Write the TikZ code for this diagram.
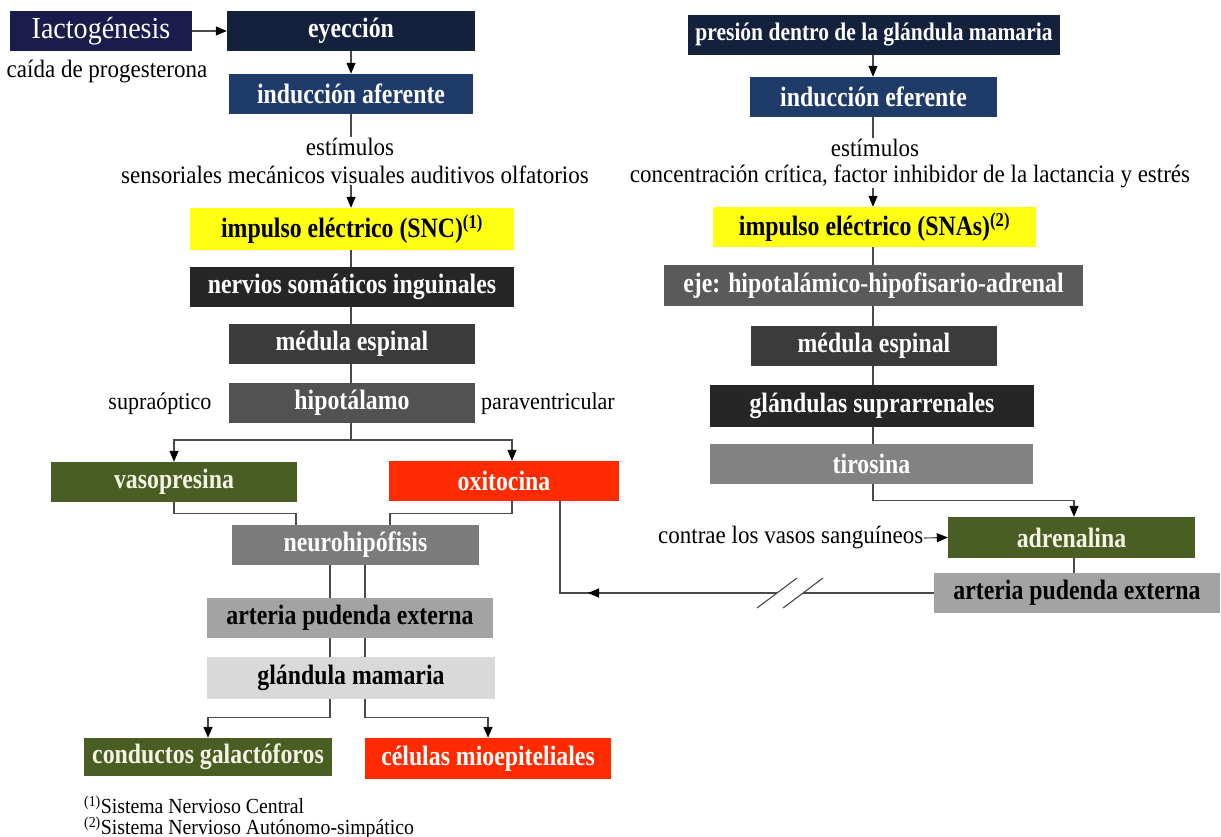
\documentclass[tikz,border=0pt]{standalone}
\usepackage{fontspec}
\setmainfont{Liberation Serif}[FakeStretch=0.92]
\newfontfamily\lblfont{Liberation Serif}[FakeStretch=0.85]
\usetikzlibrary{arrows.meta,decorations.markings}
\definecolor{navyA}{HTML}{1C1B4E}
\definecolor{navyB}{HTML}{13213D}
\definecolor{blueB}{HTML}{1F3B69}
\definecolor{yel}{HTML}{FFFF14}
\definecolor{gA}{HTML}{262626}
\definecolor{gB}{HTML}{3B3B3B}
\definecolor{gC}{HTML}{525252}
\definecolor{gD}{HTML}{5A5A5A}
\definecolor{gE}{HTML}{7B7B7B}
\definecolor{gF}{HTML}{828282}
\definecolor{gG}{HTML}{A3A3A3}
\definecolor{gH}{HTML}{D9D9D9}
\definecolor{olive}{HTML}{4A5E23}
\definecolor{redB}{HTML}{FF2A00}
\definecolor{lineC}{HTML}{4A4A4A}
\definecolor{cream}{HTML}{F4F4E4}
\begin{document}
\begin{tikzpicture}[x=1pt,y=-1pt,
  box/.style={rectangle, inner sep=0pt, text=white, font=\lblfont\fontsize{28}{30}\selectfont\bfseries},
  txt/.style={inner sep=0.5pt, text=black, font=\fontsize{25}{28}\selectfont},
  foot/.style={inner sep=0pt, text=black, font=\fontsize{21.5}{24}\selectfont},
  conn/.style={draw=lineC, line width=1.1pt},
  arr/.style={conn, -{Triangle[length=11pt,width=9pt,color=black]}},
  midarr/.style={postaction={decorate}, decoration={markings, mark=at position 189pt with {\arrow{Triangle[length=11pt,width=9pt,color=black]}}}}
]
\useasboundingbox (0,0) rectangle (1221,837);

% ---- left column ----
\node[box, fill=navyA, font=\fontsize{30.5}{32}\selectfont, minimum width=182pt, minimum height=40pt] (lact) at (101,31) {Iactogénesis};
\node[box, fill=navyB, minimum width=248pt, minimum height=40pt] (eye) at (351,31) {eyección};
\node[txt] (caida) at (107,72) {caída de progesterona};
\node[box, fill=blueB, minimum width=244pt, minimum height=40pt] (indA) at (351,94) {inducción aferente};
\node[txt] (stimL1) at (350,147) {estímulos};
\node[txt] (stimL2) at (355,175) {sensoriales mecánicos visuales auditivos olfatorios};
\node[box, fill=yel, text=black, minimum width=324pt, minimum height=42pt] (yelL) at (352,229) {impulso eléctrico (SNC)\textsuperscript{(1)}};
\node[box, fill=gA, minimum width=324pt, minimum height=40pt] (nerv) at (352,287) {nervios somáticos inguinales};
\node[box, fill=gB, minimum width=246pt, minimum height=40pt] (medL) at (352,344) {médula espinal};
\node[box, fill=gC, minimum width=246pt, minimum height=40pt] (hipo) at (352,403) {hipotálamo};
\node[txt, font=\fontsize{24}{27}\selectfont] (supra) at (160,404) {supraóptico};
\node[txt, font=\fontsize{24}{27}\selectfont] (para) at (548,404) {paraventricular};
\node[box, fill=olive, text=cream, minimum width=246pt, minimum height=40pt] (vaso) at (174,482) {vasopresina};
\node[box, fill=redB, minimum width=230pt, minimum height=40pt] (oxi) at (504,481) {oxitocina};
\node[box, fill=gE, minimum width=247pt, minimum height=40pt] (neuro) at (355.5,545) {neurohipófisis};
\node[box, fill=gG, text=black, minimum width=286pt, minimum height=40pt] (artL) at (350,618) {arteria pudenda externa};
\node[box, fill=gH, text=black, minimum width=288pt, minimum height=42pt] (glan) at (351,678) {glándula mamaria};
\node[box, fill=olive, text=cream, minimum width=248pt, minimum height=38pt] (cond) at (208,757) {conductos galactóforos};
\node[box, fill=redB, minimum width=246pt, minimum height=41pt] (cel) at (488,758.5) {células mioepiteliales};
\node[foot, anchor=west] (f1) at (84,805) {\textsuperscript{(1)}Sistema Nervioso Central};
\node[foot, anchor=west] (f2) at (84,828) {\textsuperscript{(2)}Sistema Nervioso Autónomo-simpático};

% ---- right column ----
\node[box, fill=navyB, font=\lblfont\fontsize{25.3}{27}\selectfont\bfseries, minimum width=372pt, minimum height=40pt] (pres) at (874,35) {presión dentro de la glándula mamaria};
\node[box, fill=blueB, minimum width=247pt, minimum height=40pt] (indE) at (873.5,97) {inducción eferente};
\node[txt] (stimR1) at (875,148) {estímulos};
\node[txt] (stimR2) at (910,176) {concentración crítica, factor inhibidor de la lactancia y estrés};
\node[box, fill=yel, text=black, minimum width=323pt, minimum height=40pt] (yelR) at (874.5,227) {impulso eléctrico (SNAs)\textsuperscript{(2)}};
\node[box, fill=gD, minimum width=419pt, minimum height=41pt] (eje) at (873.5,285.5) {eje: hipotalámico-hipofisario-adrenal};
\node[box, fill=gB, minimum width=246pt, minimum height=40pt] (medR) at (874,346) {médula espinal};
\node[box, fill=gA, minimum width=324pt, minimum height=42pt] (supr) at (872,406) {glándulas suprarrenales};
\node[box, fill=gF, minimum width=323pt, minimum height=40pt] (tiro) at (871.5,464) {tirosina};
\node[box, fill=olive, text=cream, minimum width=247pt, minimum height=41pt] (adr) at (1071.5,537.5) {adrenalina};
\node[box, fill=gG, text=black, minimum width=286pt, minimum height=40pt] (artR) at (1077,593) {arteria pudenda externa};
\node[txt, anchor=east] (contr) at (924,538) {contrae los vasos sanguíneos};

% ---- helper coordinates ----
\coordinate (cL) at (351,0);
\coordinate (cR) at (873,0);
\coordinate (cA) at (330,0);
\coordinate (cB) at (365,0);
\coordinate (cO) at (560,0);
\coordinate (jH) at (351,440);
\coordinate (br1) at (777,593);
\coordinate (br2) at (803,593);

% ---- left connectors ----
\draw[arr] (lact.east) -- (eye.west);
\draw[arr] (eye.south -| cL) -- (indA.north -| cL);
\draw[conn] (indA.south -| cL) -- (stimL1.north -| cL);
\draw[arr] (stimL2.south -| cL) -- (yelL.north -| cL);
\draw[conn] (yelL.south -| cL) -- (nerv.north -| cL);
\draw[conn] (nerv.south -| cL) -- (medL.north -| cL);
\draw[conn] (medL.south -| cL) -- (hipo.north -| cL);
\draw[conn] (hipo.south -| cL) -- (jH);
\draw[arr] (jH) -| (vaso.north);
\draw[arr] (jH) -| ([xshift=8pt]oxi.north);
\draw[conn] (vaso.south) -- ++(0,11) -| ([xshift=-59.5pt]neuro.north);
\draw[conn] ([xshift=8pt]oxi.south) -- ++(0,12) -| ([xshift=34.5pt]neuro.north);
\draw[conn] (neuro.south -| cA) -- (artL.north -| cA);
\draw[conn] (neuro.south -| cB) -- (artL.north -| cB);
\draw[conn] (artL.south -| cA) -- (glan.north -| cA);
\draw[conn] (artL.south -| cB) -- (glan.north -| cB);
\draw[arr] (glan.south -| cA) -- ++(0,18) -| (cond.north);
\draw[arr] (glan.south -| cB) -- ++(0,18) -| (cel.north);

% ---- oxitocina <- arteria (right) ----
\draw[conn] (artR.west) -- (br2);
\draw[conn, midarr] (br1) -- (br1 -| cO) -- (oxi.south -| cO);
\draw[conn] (757,608) -- (797,578);
\draw[conn] (783,608) -- (823,578);

% ---- right connectors ----
\draw[arr] (pres.south -| cR) -- (indE.north -| cR);
\draw[conn] (indE.south -| cR) -- (stimR1.north -| cR);
\draw[arr] (stimR2.south -| cR) -- (yelR.north -| cR);
\draw[conn] (yelR.south -| cR) -- (eje.north -| cR);
\draw[conn] (eje.south -| cR) -- (medR.north -| cR);
\draw[conn] (medR.south -| cR) -- (supr.north -| cR);
\draw[conn] (supr.south -| cR) -- (tiro.north -| cR);
\draw[arr] (tiro.south -| cR) -- ++(0,16) -| ([xshift=2.5pt]adr.north);
\draw[conn] ([xshift=2.5pt]adr.south) -- ([xshift=2.5pt]adr.south |- artR.north);
\draw[arr] (contr.east) -- (adr.west);
\end{tikzpicture}
\end{document}
